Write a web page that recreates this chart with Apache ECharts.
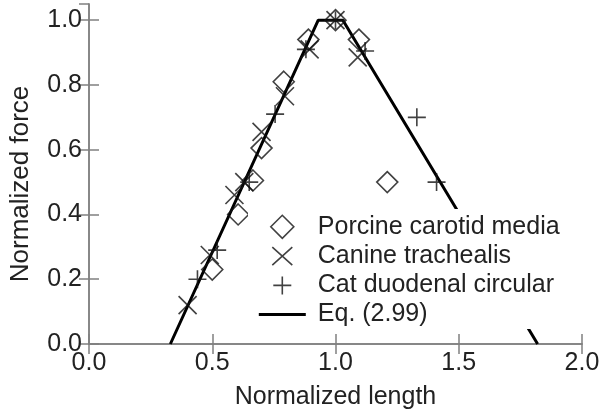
<!DOCTYPE html>
<html>
<head>
<meta charset="utf-8">
<script src="https://cdn.jsdelivr.net/npm/echarts@6/dist/echarts.min.js"></script>
<style>
  html, body { margin: 0; padding: 0; background: #fff; }
  #chart { width: 607px; height: 415px; }
</style>
</head>
<body>
<div id="chart"></div>
<script>
// normalized length / normalized force
const porcine = [
  [0.50, 0.23], [0.605, 0.40], [0.665, 0.505], [0.70, 0.605], [0.79, 0.81],
  [0.89, 0.94], [1.0, 1.0], [1.095, 0.94], [1.21, 0.50],
];
const canine = [
  [0.40, 0.12], [0.49, 0.275], [0.59, 0.46], [0.63, 0.50], [0.70, 0.655],
  [0.795, 0.765], [0.895, 0.91], [1.0, 1.0], [1.09, 0.885],
];
const cat = [
  [0.44, 0.20], [0.52, 0.29], [0.65, 0.50], [0.755, 0.71], [0.88, 0.91],
  [1.0, 1.0], [1.12, 0.905], [1.33, 0.70], [1.41, 0.50],
];
const eqLine = [[0.33, 0], [0.93, 1.0], [1.03, 1.0], [1.82, 0]];

const seriesNames = ["Porcine carotid media", "Canine trachealis", "Cat duodenal circular", "Eq. (2.99)"];
const xTicks = { min: 0, max: 2, interval: 0.5 };
const yTicks = { min: 0, max: 1.05, interval: 0.2 };

const FONT = "Liberation Sans";
const AXIS_COLOR = "#808080";
const TEXT_COLOR = "#222";

// legend icons drawn in a 47x24 box so they keep their shape
const BOX = "M0,0M47,24";
const ICON_DIAMOND = "path://" + BOX + "M12,12L23.5,0.5L35,12L23.5,23.5Z";
const ICON_CROSS = "path://" + BOX + "M13.5,3L33.5,21M33.5,3L13.5,21";
const ICON_PLUS = "path://" + BOX + "M23.5,3L23.5,21M14.5,12L32.5,12";
const ICON_LINE = "path://" + BOX + "M0,10.5L47,10.5L47,13.5L0,13.5Z";

const chart = echarts.init(document.getElementById("chart"));

const markerStyle = {
  color: "rgba(0,0,0,0)",
  borderColor: "#111",
  borderWidth: 1.6,
};

function valueAxis(ticks, extra) {
  return Object.assign({
    type: "value",
    min: ticks.min,
    max: ticks.max,
    interval: ticks.interval,
    splitLine: { show: false },
    axisLine: { show: true, lineStyle: { color: AXIS_COLOR, width: 1.5 } },
    axisTick: { show: true, inside: true, length: 10, lineStyle: { color: AXIS_COLOR, width: 1.5 } },
    axisLabel: {
      show: true,
      color: TEXT_COLOR,
      fontFamily: FONT,
      fontSize: 25,
      margin: 7,
      showMaxLabel: ticks.max % ticks.interval === 0,
      formatter: (v) => v.toFixed(1),
    },
  }, extra);
}

const option = {
  animation: false,
  textStyle: { fontFamily: FONT },
  grid: { left: 89, right: 25, top: 4, bottom: 71 },
  xAxis: [
    valueAxis(xTicks, {
      position: "bottom",
      name: "Normalized length",
      nameLocation: "middle",
      nameGap: 41,
      nameTextStyle: { color: TEXT_COLOR, fontFamily: FONT, fontSize: 25 },
    }),
    valueAxis(xTicks, { position: "top", axisLabel: { show: false } }),
  ],
  yAxis: [
    valueAxis(yTicks, {
      position: "left",
      name: "Normalized force",
      nameLocation: "middle",
      nameGap: 55,
      nameTextStyle: { color: TEXT_COLOR, fontFamily: FONT, fontSize: 26, padding: [0, 20, 0, 0] },
    }),
    valueAxis(yTicks, { position: "right", axisLabel: { show: false } }),
  ],
  legend: {
    orient: "vertical",
    left: 248,
    top: 209,
    padding: [5, 10, 2, 10],
    backgroundColor: "#fff",
    itemWidth: 47,
    itemHeight: 24,
    itemGap: 3.7,
    selectedMode: false,
    data: [
      { name: seriesNames[0], icon: ICON_DIAMOND, itemStyle: markerStyle },
      { name: seriesNames[1], icon: ICON_CROSS, itemStyle: markerStyle },
      { name: seriesNames[2], icon: ICON_PLUS, itemStyle: markerStyle },
      { name: seriesNames[3], icon: ICON_LINE, itemStyle: { color: "#000", borderWidth: 0 } },
    ],
    textStyle: { color: TEXT_COLOR, fontFamily: FONT, fontSize: 25, padding: [0, 0, 0, 7] },
  },
  series: [
    {
      name: seriesNames[3],
      type: "line",
      data: eqLine,
      symbol: "none",
      lineStyle: { color: "#000", width: 3 },
      itemStyle: { color: "#000" },
      z: 1,
    },
    {
      name: seriesNames[0],
      type: "scatter",
      data: porcine,
      symbol: "diamond",
      symbolSize: 21,
      itemStyle: markerStyle,
    },
    {
      name: seriesNames[1],
      type: "scatter",
      data: canine,
      symbol: "path://M0,0L10,10M10,0L0,10",
      symbolSize: 18,
      symbolKeepAspect: true,
      itemStyle: markerStyle,
    },
    {
      name: seriesNames[2],
      type: "scatter",
      data: cat,
      symbol: "path://M5,0L5,10M0,5L10,5",
      symbolSize: 18,
      symbolKeepAspect: true,
      itemStyle: markerStyle,
    },
  ],
};

chart.setOption(option);
</script>
</body>
</html>
